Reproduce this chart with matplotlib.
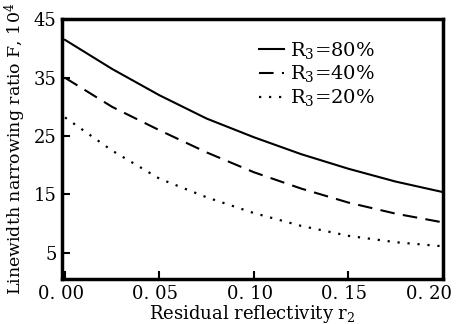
import numpy as np
import matplotlib
matplotlib.use("Agg")
import matplotlib.pyplot as plt
from matplotlib.transforms import ScaledTranslation

# values (x = residual reflectivity r2)
r2 = [0.0, 0.025, 0.05, 0.075, 0.10, 0.125, 0.15, 0.175, 0.20]
f_r80 = [41.5, 36.5, 32.0, 28.0, 24.8, 21.9, 19.4, 17.2, 15.4]
f_r40 = [35.0, 30.0, 26.0, 22.2, 18.8, 16.0, 13.6, 11.7, 10.2]
f_r20 = [28.2, 22.5, 17.7, 14.5, 11.8, 9.6, 7.9, 6.8, 6.1]

labels = ["R$_3$=80%", "R$_3$=40%", "R$_3$=20%"]
x_ticks = [0.0, 0.05, 0.10, 0.15, 0.20]
x_tick_labels = ["0. 00", "0. 05", "0. 10", "0. 15", "0. 20"]
y_ticks = [5, 15, 25, 35, 45]

plt.rcParams["font.family"] = ["DejaVu Serif"]
plt.rcParams["mathtext.fontset"] = "dejavuserif"

fig = plt.figure(figsize=(4.57, 3.24), dpi=100)
ax = fig.add_axes([0.136, 0.139, 0.833, 0.801])

ax.plot(r2, f_r80, color="black", lw=1.5, ls="-", label=labels[0])
ax.plot(r2, f_r40, color="black", lw=1.5, ls=(0, (7, 4)), label=labels[1])
ax.plot(r2, f_r20, color="black", lw=1.6, ls=(0, (1, 3.5)), label=labels[2])

ax.set_xlim(-0.0015, 0.2)
ax.set_ylim(0.5, 44.8)
ax.set_xticks(x_ticks)
ax.set_xticklabels(x_tick_labels)
ax.set_yticks(y_ticks)
ax.tick_params(direction="in", length=6, width=1.5, labelsize=13, pad=4)

# labels in the scan sit a few pixels left of their ticks;
# the last one is pulled in so it stays inside the image
xlabs = ax.get_xticklabels()
for i, lab in enumerate(xlabs):
    dx = -14 if i == len(xlabs) - 1 else -4
    lab.set_transform(lab.get_transform() + ScaledTranslation(dx / 100, 0, fig.dpi_scale_trans))

for s in ax.spines.values():
    s.set_linewidth(2.5)

ax.set_xlabel("Residual reflectivity r$_2$", fontsize=13, labelpad=0)
ax.set_ylabel("Linewidth narrowing ratio F, 10$^4$", fontsize=12.5, labelpad=4)

ax.legend(loc="upper left", bbox_to_anchor=(0.47, 0.99), frameon=False,
          fontsize=14, handlelength=1.3, handletextpad=0.3, labelspacing=0.15)

fig.savefig("out.png", dpi=100)
